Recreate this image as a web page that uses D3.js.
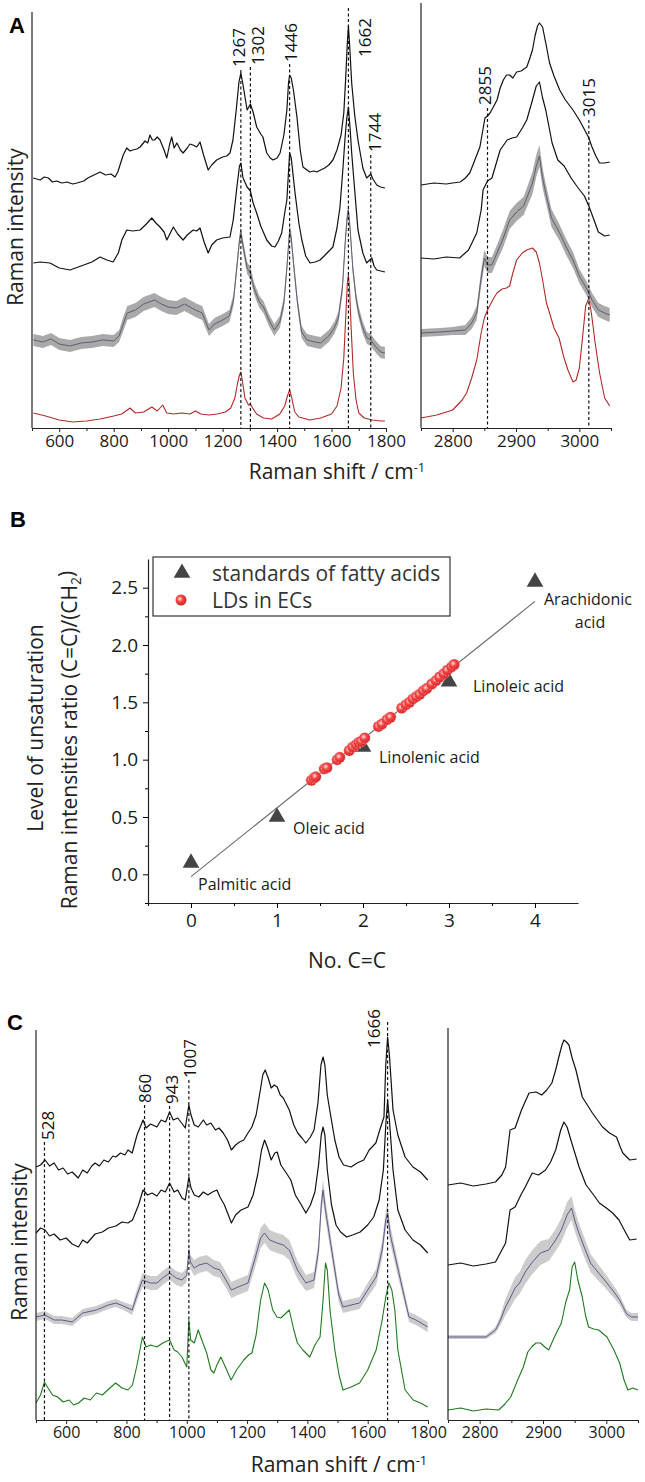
<!DOCTYPE html>
<html><head><meta charset="utf-8">
<script src="https://cdn.jsdelivr.net/npm/d3@7"></script>
<style>
body{margin:0;background:#fff}
svg{display:block}
text{font-family:'Open Sans',sans-serif;fill:#1a1a1a}
</style></head>
<body><svg id="chart" width="645" height="1482"></svg>
<script>
// ================= DATA =================
// Panel A, fingerprint region [wavenumber, intensity (a.u.)]
const aLeftTop = [[504,250],[530,248],[545,251],[560,250],[575,246],[590,247],[610,245],[628,246],[650,244],[665,245],[690,247],[705,250],[720,252],[735,254],[750,256],[770,253],[790,254],[805,251],[815,256],[822,262],[835,273],[848,280],[860,277],[870,278],[885,279],[897,281],[915,287],[925,285],[933,293],[942,288],[950,288],[960,291],[970,288],[985,278],[995,270],[1005,283],[1013,291],[1022,280],[1032,285],[1045,278],[1055,275],[1070,280],[1080,284],[1091,283],[1105,281],[1117,286],[1130,273],[1147,258],[1160,263],[1178,268],[1200,271],[1215,272],[1227,275],[1238,288],[1250,318],[1260,346],[1267,355],[1275,343],[1290,318],[1302,324],[1312,316],[1325,301],[1340,294],[1348,291],[1362,275],[1375,270],[1385,268],[1400,270],[1411,275],[1425,293],[1436,318],[1442,345],[1446,353],[1452,350],[1460,338],[1473,311],[1485,278],[1495,261],[1510,258],[1520,256],[1535,257],[1546,256],[1560,258],[1575,260],[1590,263],[1605,268],[1620,278],[1635,293],[1645,315],[1652,350],[1658,385],[1662,402],[1666,385],[1674,345],[1685,313],[1697,288],[1715,260],[1729,250],[1737,252],[1744,254],[1752,249],[1766,243],[1780,241],[1796,240]];
const aLeftMid = [[505,165],[530,166],[566,165],[600,160],[640,158],[680,162],[720,166],[750,171],[775,168],[798,166],[817,175],[830,188],[848,198],[870,197],[897,198],[920,204],[940,210],[955,205],[970,201],[985,196],[995,188],[1008,195],[1019,201],[1035,194],[1055,188],[1070,193],[1092,198],[1105,197],[1117,200],[1132,186],[1147,175],[1160,183],[1178,188],[1200,190],[1227,191],[1239,208],[1252,240],[1262,262],[1267,265],[1275,250],[1290,241],[1302,237],[1312,225],[1325,215],[1340,202],[1362,188],[1380,182],[1392,181],[1405,187],[1417,195],[1428,215],[1436,228],[1446,275],[1452,270],[1466,235],[1480,205],[1491,188],[1505,172],[1521,165],[1540,166],[1558,168],[1580,174],[1605,181],[1620,200],[1631,221],[1642,260],[1649,288],[1656,310],[1662,321],[1668,300],[1674,275],[1685,238],[1697,198],[1715,175],[1729,165],[1740,168],[1748,170],[1756,162],[1766,158],[1796,156]];
// mean spectra: [wavenumber, intensity, standard deviation]
const aLeftMean = [[505,88,6],[540,86,6],[570,89,6],[600,84,6],[640,82,6],[680,85,6],[720,86,6],[760,88,6],[800,87,6],[820,92,6],[835,104,7],[850,115,7],[880,118,7],[910,124,7],[950,128,7],[975,124,7],[1000,121,7],[1030,120,7],[1060,124,7],[1100,118,7],[1125,115,7],[1150,98,6],[1170,104,6],[1200,108,6],[1225,112,6],[1240,128,6],[1252,160,6],[1262,188,6],[1267,195,6],[1275,182,6],[1290,160,6],[1302,155,6],[1315,140,6],[1335,126,6],[1350,121,6],[1370,108,6],[1390,98,6],[1410,106,6],[1425,125,6],[1436,160,6],[1446,198,6],[1452,190,6],[1462,160,6],[1475,125,6],[1490,96,6],[1510,88,6],[1540,86,6],[1560,85,6],[1590,92,6],[1610,100,6],[1625,110,6],[1640,140,6],[1650,185,6],[1657,210,6],[1662,218,6],[1668,200,6],[1678,160,6],[1690,130,6],[1700,115,6],[1715,100,6],[1730,90,6],[1744,88,6],[1760,82,6],[1780,76,6],[1796,75,6]];
const aLeftRef = [[505,15],[550,12],[600,8],[650,6],[700,7],[750,9],[800,12],[830,14],[860,20],[880,15],[910,16],[940,21],[960,17],[980,23],[995,15],[1020,14],[1050,15],[1080,14],[1100,17],[1120,14],[1150,13],[1180,14],[1210,16],[1230,20],[1245,30],[1255,45],[1262,53],[1267,56],[1272,48],[1282,30],[1295,23],[1302,24],[1310,20],[1325,14],[1350,10],[1380,9],[1410,14],[1428,22],[1438,32],[1446,38],[1454,30],[1465,16],[1480,11],[1520,8],[1560,10],[1600,14],[1620,22],[1635,40],[1645,70],[1652,110],[1658,145],[1662,153],[1666,140],[1672,100],[1680,55],[1690,28],[1700,15],[1720,10],[1750,8],[1780,7],[1796,7]];
// Panel A, high-wavenumber region
const aRightTop = [[2750,243],[2770,245],[2790,244],[2800,245],[2812,246],[2820,250],[2827,255],[2835,268],[2843,281],[2851,310],[2855,312],[2859,315],[2865,322],[2870,328],[2875,340],[2880,348],[2885,353],[2890,353],[2895,350],[2901,356],[2908,357],[2917,361],[2922,370],[2926,378],[2930,392],[2934,402],[2937,405],[2942,401],[2947,385],[2953,365],[2960,352],[2969,338],[2978,328],[2990,318],[3000,308],[3011,295],[3015,290],[3020,281],[3026,272],[3032,265],[3040,265],[3048,266]];
const aRightMid = [[2750,170],[2770,169],[2790,171],[2811,170],[2825,178],[2838,195],[2845,218],[2848,238],[2855,247],[2862,250],[2875,278],[2886,288],[2894,290],[2901,291],[2910,300],[2917,308],[2926,328],[2932,342],[2937,346],[2942,330],[2947,318],[2957,285],[2966,268],[2976,262],[2987,250],[2997,241],[3008,232],[3015,222],[3022,210],[3030,196],[3040,192],[3048,193]];
const aRightMean = [[2750,95,4],[2780,96,4],[2800,97,4],[2820,98,5],[2830,105,6],[2838,115,7],[2845,150,8],[2850,170,8],[2855,163,8],[2862,163,8],[2870,175,8],[2880,190,9],[2890,208,9],[2901,216,9],[2912,222,9],[2920,235,10],[2926,245,11],[2932,262,11],[2937,272,11],[2942,250,10],[2947,235,9],[2956,210,9],[2969,195,8],[2980,180,8],[2990,168,8],[3000,152,7],[3011,140,7],[3020,128,7],[3030,118,7],[3040,115,7],[3048,113,7]];
const aRightRef = [[2750,10],[2775,13],[2800,18],[2815,28],[2822,35],[2830,50],[2838,68],[2845,95],[2850,110],[2855,118],[2865,130],[2870,135],[2878,139],[2885,140],[2890,142],[2895,155],[2901,168],[2910,175],[2917,178],[2926,180],[2932,176],[2937,165],[2942,148],[2948,125],[2953,115],[2960,100],[2968,90],[2975,72],[2982,58],[2990,46],[2995,48],[3000,60],[3005,90],[3010,122],[3015,130],[3019,115],[3025,85],[3032,55],[3040,30],[3048,22]];
const annA_left = [1267, 1302, 1446, 1662, 1744];
const annA_right = [2855, 3015];

// Panel B
const stdNames = ["Palmitic acid", "Oleic acid", "Linolenic acid", "Linoleic acid", "Arachidonic acid"];
const stdCC = [0, 1, 2, 3, 4];
const stdRatio = [0.10, 0.50, 1.11, 1.68, 2.55];
const ldCC = [1.40,1.43,1.45,1.55,1.58,1.70,1.73,1.84,1.88,1.92,1.95,1.98,2.02,2.18,2.22,2.28,2.32,2.45,2.50,2.54,2.58,2.62,2.66,2.70,2.74,2.80,2.85,2.89,2.94,2.98,3.03,3.06];
const ldRatio = [0.82,0.84,0.85,0.92,0.93,1.00,1.02,1.08,1.11,1.13,1.15,1.16,1.19,1.29,1.31,1.35,1.37,1.45,1.48,1.50,1.53,1.55,1.57,1.60,1.62,1.66,1.69,1.72,1.75,1.78,1.81,1.83];
const fitLine = [[0, -0.02], [4, 2.38]];
const bXTicks = [0, 1, 2, 3, 4];
const bYTicks = [0.0, 0.5, 1.0, 1.5, 2.0, 2.5];

// Panel C, fingerprint region
const cLeftTop = [[500,253],[515,255],[530,260],[545,254],[560,257],[575,250],[590,252],[605,246],[620,248],[640,242],[655,250],[670,247],[685,254],[696,257],[710,254],[725,260],[740,258],[755,264],[765,263],[780,267],[795,265],[805,270],[819,267],[835,285],[855,300],[865,292],[880,296],[901,293],[915,300],[930,298],[943,308],[955,300],[970,302],[983,297],[995,292],[1007,315],[1014,305],[1025,295],[1038,293],[1055,300],[1066,295],[1080,297],[1095,290],[1107,292],[1121,287],[1135,280],[1148,270],[1162,275],[1175,278],[1189,280],[1203,287],[1216,293],[1230,305],[1244,330],[1252,345],[1260,350],[1270,342],[1280,332],[1290,335],[1300,333],[1310,325],[1320,322],[1330,316],[1340,310],[1355,295],[1368,287],[1382,282],[1395,277],[1410,283],[1422,290],[1435,317],[1445,355],[1452,363],[1458,355],[1466,325],[1478,303],[1491,280],[1505,263],[1520,255],[1545,253],[1565,257],[1587,260],[1605,270],[1627,277],[1640,290],[1654,303],[1660,355],[1666,383],[1672,365],[1684,310],[1700,285],[1724,263],[1750,253],[1775,248],[1799,240]];
const cLeftMid = [[500,187],[515,192],[530,190],[545,184],[560,186],[580,180],[600,182],[620,176],[641,173],[655,180],[670,177],[696,186],[720,188],[740,192],[765,194],[785,198],[805,197],[820,200],[840,215],[855,230],[870,225],[885,227],[901,224],[915,230],[929,228],[943,237],[958,228],[970,230],[984,222],[995,220],[1007,243],[1014,232],[1025,225],[1040,223],[1055,228],[1070,225],[1085,228],[1100,230],[1110,223],[1125,215],[1148,197],[1162,205],[1180,210],[1203,213],[1220,225],[1235,245],[1248,270],[1258,280],[1268,272],[1280,260],[1292,267],[1300,268],[1312,255],[1330,247],[1345,240],[1360,225],[1380,215],[1395,207],[1410,215],[1425,228],[1437,255],[1446,285],[1452,293],[1458,285],[1466,250],[1480,215],[1495,195],[1510,188],[1530,183],[1550,185],[1575,188],[1600,195],[1620,203],[1638,220],[1652,250],[1660,295],[1666,320],[1672,300],[1684,250],[1700,210],[1724,190],[1750,180],[1775,175],[1799,167]];
const cLeftMean = [[500,103,4],[530,105,4],[560,100,4],[586,100,4],[620,98,4],[655,107,4],[700,110,4],[740,115,4],[765,117,4],[790,114,4],[819,110,5],[835,125,6],[853,140,7],[880,137,7],[901,137,7],[920,142,7],[943,147,7],[965,142,7],[984,140,7],[1000,145,7],[1007,170,6],[1012,158,7],[1025,152,8],[1040,155,8],[1066,157,8],[1090,152,8],[1110,150,8],[1130,140,8],[1148,130,8],[1170,133,8],[1203,137,8],[1225,160,9],[1245,182,10],[1258,187,10],[1275,180,10],[1299,177,10],[1320,175,10],[1340,170,10],[1367,150,9],[1395,137,8],[1422,140,8],[1437,170,9],[1446,215,10],[1452,230,11],[1460,210,10],[1477,177,9],[1491,150,8],[1504,125,7],[1518,113,6],[1545,115,6],[1573,117,6],[1600,130,7],[1628,143,8],[1648,170,9],[1660,200,10],[1666,207,10],[1675,185,9],[1696,157,8],[1724,120,6],[1737,103,5],[1760,100,5],[1799,93,5]];
const cLeftRef = [[500,17],[515,25],[528,38],[540,32],[555,25],[572,23],[590,18],[610,20],[625,15],[641,17],[660,22],[680,20],[700,27],[720,25],[745,32],[764,37],[785,32],[805,30],[820,35],[835,55],[853,83],[865,73],[880,75],[901,73],[920,77],[943,80],[958,70],[970,68],[984,63],[1000,53],[1007,100],[1013,80],[1025,77],[1038,90],[1050,80],[1066,67],[1080,50],[1090,47],[1100,55],[1113,63],[1125,55],[1147,40],[1165,50],[1189,60],[1205,65],[1216,67],[1230,85],[1245,120],[1258,137],[1270,130],[1285,110],[1299,103],[1312,102],[1340,110],[1355,90],[1367,77],[1385,70],[1408,63],[1425,75],[1442,83],[1452,120],[1460,157],[1466,150],[1475,110],[1491,70],[1505,45],[1518,30],[1545,33],[1573,37],[1600,50],[1628,70],[1648,100],[1660,123],[1670,137],[1680,130],[1690,110],[1700,70],[1724,30],[1751,20],[1775,17],[1799,13]];
// Panel C, high-wavenumber region
const cRightTop = [[2750,235],[2770,237],[2790,234],[2810,236],[2825,238],[2835,245],[2841,253],[2848,290],[2856,292],[2866,310],[2878,327],[2889,328],[2898,325],[2906,330],[2914,337],[2920,350],[2925,363],[2930,375],[2933,380],[2937,378],[2941,375],[2946,362],[2952,350],[2962,323],[2970,315],[2978,307],[2986,300],[2994,293],[3005,287],[3016,283],[3022,273],[3026,267],[3037,260],[3048,261]];
const cRightMid = [[2750,155],[2770,157],[2790,154],[2810,156],[2825,158],[2835,170],[2841,177],[2848,210],[2856,213],[2865,225],[2872,233],[2883,247],[2893,245],[2904,250],[2912,258],[2920,270],[2928,290],[2933,298],[2938,293],[2945,278],[2957,253],[2968,235],[2980,225],[2989,217],[3000,212],[3010,207],[3020,200],[3030,188],[3037,180],[3048,181]];
const cRightMean = [[2750,83,2],[2780,83,2],[2810,83,2],[2825,90,3],[2833,100,5],[2840,112,8],[2849,123,10],[2856,132,11],[2863,137,11],[2872,148,12],[2882,157,12],[2896,167,12],[2909,170,11],[2920,180,11],[2929,190,12],[2938,205,13],[2945,212,12],[2950,200,11],[2955,190,10],[2965,173,10],[2975,157,9],[2988,147,8],[3001,137,7],[3012,128,6],[3021,120,5],[3032,106,4],[3040,103,4],[3050,103,4]];
const cRightRef = [[2750,10],[2770,12],[2790,9],[2810,11],[2830,10],[2840,16],[2849,23],[2860,40],[2869,53],[2876,68],[2882,73],[2889,77],[2896,77],[2903,73],[2909,70],[2918,83],[2929,97],[2936,118],[2942,130],[2946,153],[2950,158],[2955,140],[2962,123],[2967,105],[2972,93],[2980,91],[2988,90],[3001,83],[3012,70],[3021,57],[3028,40],[3034,30],[3042,32],[3050,30]];
const annC_left = [528, 860, 943, 1007, 1666];

const fpTicks = [600, 800, 1000, 1200, 1400, 1600, 1800];
const fpMinor = [500, 700, 900, 1100, 1300, 1500, 1700];
const hwTicks = [2800, 2900, 3000];
const hwMinor = [2750, 2850, 2950, 3050];

// ================= DRAWING =================
const svg = d3.select("#chart");
const defs = svg.append("defs");
const grad = defs.append("radialGradient").attr("id","ldg").attr("cx","40%").attr("cy","40%").attr("r","60%");
grad.append("stop").attr("offset","0%").attr("stop-color","#ffe0e0");
grad.append("stop").attr("offset","45%").attr("stop-color","#f24545");
grad.append("stop").attr("offset","100%").attr("stop-color","#d92626");

function panelLetter(t, x, y){
  svg.append("text").attr("x",x).attr("y",y).text(t)
    .style("font-family","'Liberation Sans',Arial,sans-serif").style("font-weight","bold").style("font-size","22px").style("fill","#000");
}
function drawLine(x, y, data, color, w){
  svg.append("path").datum(data)
    .attr("d", d3.line().x(d=>x(d[0])).y(d=>y(d[1])))
    .attr("fill","none").attr("stroke",color).attr("stroke-width",w).attr("stroke-linejoin","round");
}
function drawBand(x, y, data, fill, op, lineColor){
  svg.append("path").datum(data)
    .attr("d", d3.area().x(d=>x(d[0])).y0(d=>y(d[1]-d[2])).y1(d=>y(d[1]+d[2])))
    .attr("fill",fill).attr("opacity",op);
  drawLine(x, y, data, lineColor, 1);
}
function bottomAxis(x, yPos, major, minor, fs){
  const g = svg.append("g").attr("transform",`translate(0,${yPos})`);
  g.call(d3.axisBottom(x).tickValues(major).tickSize(4).tickSizeOuter(0).tickPadding(3).tickFormat(d3.format("d")));
  g.select(".domain").attr("stroke","#222").attr("stroke-width",1.2);
  g.selectAll(".tick line").attr("stroke","#222");
  g.selectAll(".tick text").style("font-size",fs+"px").style("font-family","'Open Sans',sans-serif").attr("fill","#222");
  const g2 = svg.append("g").attr("transform",`translate(0,${yPos})`);
  g2.call(d3.axisBottom(x).tickValues(minor).tickSize(3).tickSizeOuter(0).tickFormat(""));
  g2.select(".domain").remove();
  g2.selectAll(".tick line").attr("stroke","#222");
}
function vline(x, y1, y2){
  svg.append("line").attr("x1",x).attr("x2",x).attr("y1",y1).attr("y2",y2).attr("stroke","#222").attr("stroke-width",1.2);
}
function annot(x, v, lay, yBottom, fs){
  const px = x(v);
  svg.append("line").attr("x1",px).attr("x2",px).attr("y1",lay.line).attr("y2",yBottom)
    .attr("stroke","#111").attr("stroke-width",1.2).attr("stroke-dasharray","3,2.5");
  svg.append("text").attr("transform",`translate(${px+lay.dx},${lay.bottom}) rotate(-90)`)
    .attr("text-anchor","start").attr("dy","0.36em").style("font-size",fs+"px").style("fill","#111").text(v);
}
function rotLabel(t, x, y, fs){
  svg.append("text").attr("transform",`translate(${x},${y}) rotate(-90)`).attr("text-anchor","middle")
    .attr("dy","0.36em").style("font-size",fs+"px").style("fill","#222").text(t);
}
function shiftTitle(x, y){
  const t = svg.append("text").attr("x",x).attr("y",y).attr("text-anchor","middle").style("font-size","21px").style("fill","#222");
  t.append("tspan").text("Raman shift / cm");
  t.append("tspan").attr("dy","-0.55em").style("font-size","13px").text("-1");
}

// ---------- Panel A ----------
panelLetter("A", 9, 33);
const xAL = d3.scaleLinear().domain([500,1800]).range([32,386]);
const xAR = d3.scaleLinear().domain([2750,3050]).range([421,611]);
const yA = d3.scaleLinear().domain([0,420]).range([428,8]);
const annLayA = {1267:{dx:-2,bottom:67,line:70},1302:{dx:7,bottom:65,line:67},1446:{dx:1,bottom:62,line:64},1662:{dx:16,bottom:57,line:8},1744:{dx:4,bottom:152,line:155}};
const annLayAR = {2855:{dx:-3,bottom:105,line:108},3015:{dx:0,bottom:117,line:120}};

drawLine(xAL, yA, aLeftRef, "#b02a2a", 1.1);
drawBand(xAL, yA, aLeftMean, "#9a9a9a", 0.85, "#5f5f70");
drawLine(xAL, yA, aLeftMid, "#111", 1.2);
drawLine(xAL, yA, aLeftTop, "#111", 1.2);
drawLine(xAR, yA, aRightRef, "#b02a2a", 1.1);
drawBand(xAR, yA, aRightMean, "#9a9a9a", 0.85, "#5f5f70");
drawLine(xAR, yA, aRightMid, "#111", 1.2);
drawLine(xAR, yA, aRightTop, "#111", 1.2);
annA_left.forEach(v=>annot(xAL, v, annLayA[v], 428, 17));
annA_right.forEach(v=>annot(xAR, v, annLayAR[v], 428, 17));
vline(32, 12, 428); vline(421, 3, 428);
bottomAxis(xAL, 428, fpTicks, fpMinor, 17);
bottomAxis(xAR, 428, hwTicks, hwMinor, 17);
rotLabel("Raman intensity", 15, 227, 21);
shiftTitle(337, 479);

// ---------- Panel B ----------
panelLetter("B", 10, 527);
const xB = d3.scaleLinear().domain([-0.5,4.5]).range([148,578]);
const yB = d3.scaleLinear().domain([-0.25,2.75]).range([903,559]);
{
  const gx = svg.append("g").attr("transform","translate(0,903)");
  gx.call(d3.axisBottom(xB).tickValues(bXTicks).tickSize(5).tickSizeOuter(0).tickPadding(6).tickFormat(d3.format("d")));
  gx.select(".domain").attr("stroke","#222").attr("stroke-width",1.2);
  gx.selectAll(".tick text").style("font-size","19px").attr("fill","#333");
  const gx2 = svg.append("g").attr("transform","translate(0,903)");
  gx2.call(d3.axisBottom(xB).tickValues([-0.5,0.5,1.5,2.5,3.5]).tickSize(3).tickSizeOuter(0).tickFormat(""));
  gx2.select(".domain").remove();
  const gy = svg.append("g").attr("transform","translate(148,0)");
  gy.call(d3.axisLeft(yB).tickValues(bYTicks).tickSize(5).tickSizeOuter(0).tickPadding(5).tickFormat(d3.format(".1f")));
  gy.select(".domain").attr("stroke","#222").attr("stroke-width",1.2);
  gy.selectAll(".tick text").style("font-size","19px").attr("fill","#333");
  const gy2 = svg.append("g").attr("transform","translate(148,0)");
  gy2.call(d3.axisLeft(yB).tickValues([-0.25,0.25,0.75,1.25,1.75,2.25]).tickSize(3).tickSizeOuter(0).tickFormat(""));
  gy2.select(".domain").remove();
}
svg.append("path").datum(fitLine).attr("d", d3.line().x(d=>xB(d[0])).y(d=>yB(d[1])))
  .attr("stroke","#666").attr("stroke-width",1.1).attr("fill","none");
const tri = d3.symbol().type(d3.symbolTriangle).size(120);
stdCC.forEach((c,i)=>{
  svg.append("path").attr("d",tri()).attr("transform",`translate(${xB(c)},${yB(stdRatio[i])})`).attr("fill","#444");
});
ldCC.forEach((c,i)=>{
  svg.append("circle").attr("cx",xB(c)).attr("cy",yB(ldRatio[i])).attr("r",5.5)
    .attr("fill","url(#ldg)").attr("stroke","#ffc8c8").attr("stroke-width",0.6).attr("stroke-dasharray","1.5,1.5");
});
const stdLay = [{dx:7,dy:21},{dx:16,dy:11},{dx:16,dy:10},{dx:24,dy:5},{dx:9,dy:17}];
stdNames.forEach((n,i)=>{
  const px = xB(stdCC[i]) + stdLay[i].dx, py = yB(stdRatio[i]) + stdLay[i].dy;
  if (n === "Arachidonic acid"){
    svg.append("text").attr("x",px).attr("y",py).attr("dy","0.36em").style("font-size","16px").text("Arachidonic");
    svg.append("text").attr("x",px+46).attr("y",py+23).attr("dy","0.36em").attr("text-anchor","middle").style("font-size","16px").text("acid");
  } else {
    svg.append("text").attr("x",px).attr("y",py).attr("dy","0.36em").style("font-size","16px").text(n);
  }
});
// legend
svg.append("rect").attr("x",153).attr("y",557).attr("width",297).attr("height",59).attr("fill","#fff").attr("stroke","#333").attr("stroke-width",1.2);
svg.append("path").attr("d",tri()).attr("transform","translate(182,573)").attr("fill","#444");
svg.append("circle").attr("cx",181).attr("cy",600).attr("r",5.5).attr("fill","url(#ldg)");
svg.append("text").attr("x",212).attr("y",573).attr("dy","0.36em").style("font-size","21px").style("fill","#333").text("standards of fatty acids");
svg.append("text").attr("x",212).attr("y",600).attr("dy","0.36em").style("font-size","21px").style("fill","#333").text("LDs in ECs");
// titles
svg.append("text").attr("x",347).attr("y",968).attr("text-anchor","middle").style("font-size","21px").style("fill","#222").text("No. C=C");
rotLabel("Level of unsaturation", 35, 728, 21);
{
  const t = svg.append("text").attr("transform","translate(69,740) rotate(-90)").attr("text-anchor","middle").attr("dy","0.36em").style("font-size","21px").style("fill","#222");
  t.append("tspan").text("Raman intensities ratio (C=C)/(CH");
  t.append("tspan").attr("dy","0.3em").style("font-size","14px").text("2");
  t.append("tspan").attr("dy","-0.3em").text(")");
}

// ---------- Panel C ----------
panelLetter("C", 7, 1030);
const xCL = d3.scaleLinear().domain([500,1800]).range([36,428]);
const xCR = d3.scaleLinear().domain([2750,3050]).range([448,638]);
const yC = d3.scaleLinear().domain([0,390]).range([1420,1030]);
const annLayC = {528:{dx:3,bottom:1140,line:1142},860:{dx:0,bottom:1103,line:1105},943:{dx:2,bottom:1104,line:1106},1007:{dx:1,bottom:1078,line:1080},1666:{dx:-14,bottom:1048,line:1022}};

drawLine(xCL, yC, cLeftRef, "#1f7a1f", 1.1);
drawBand(xCL, yC, cLeftMean, "#c6c6c6", 0.9, "#5c5c8c");
drawLine(xCL, yC, cLeftMid, "#111", 1.2);
drawLine(xCL, yC, cLeftTop, "#111", 1.2);
drawLine(xCR, yC, cRightRef, "#1f7a1f", 1.1);
drawBand(xCR, yC, cRightMean, "#c6c6c6", 0.9, "#5c5c8c");
drawLine(xCR, yC, cRightMid, "#111", 1.2);
drawLine(xCR, yC, cRightTop, "#111", 1.2);
annC_left.forEach(v=>annot(xCL, v, annLayC[v], 1420, 17));
vline(36, 1030, 1420); vline(448, 1028, 1420);
bottomAxis(xCL, 1420, fpTicks, fpMinor, 16);
bottomAxis(xCR, 1420, hwTicks, hwMinor, 16);
rotLabel("Raman intensity", 19, 1242, 21);
shiftTitle(339, 1472);
</script></body></html>
